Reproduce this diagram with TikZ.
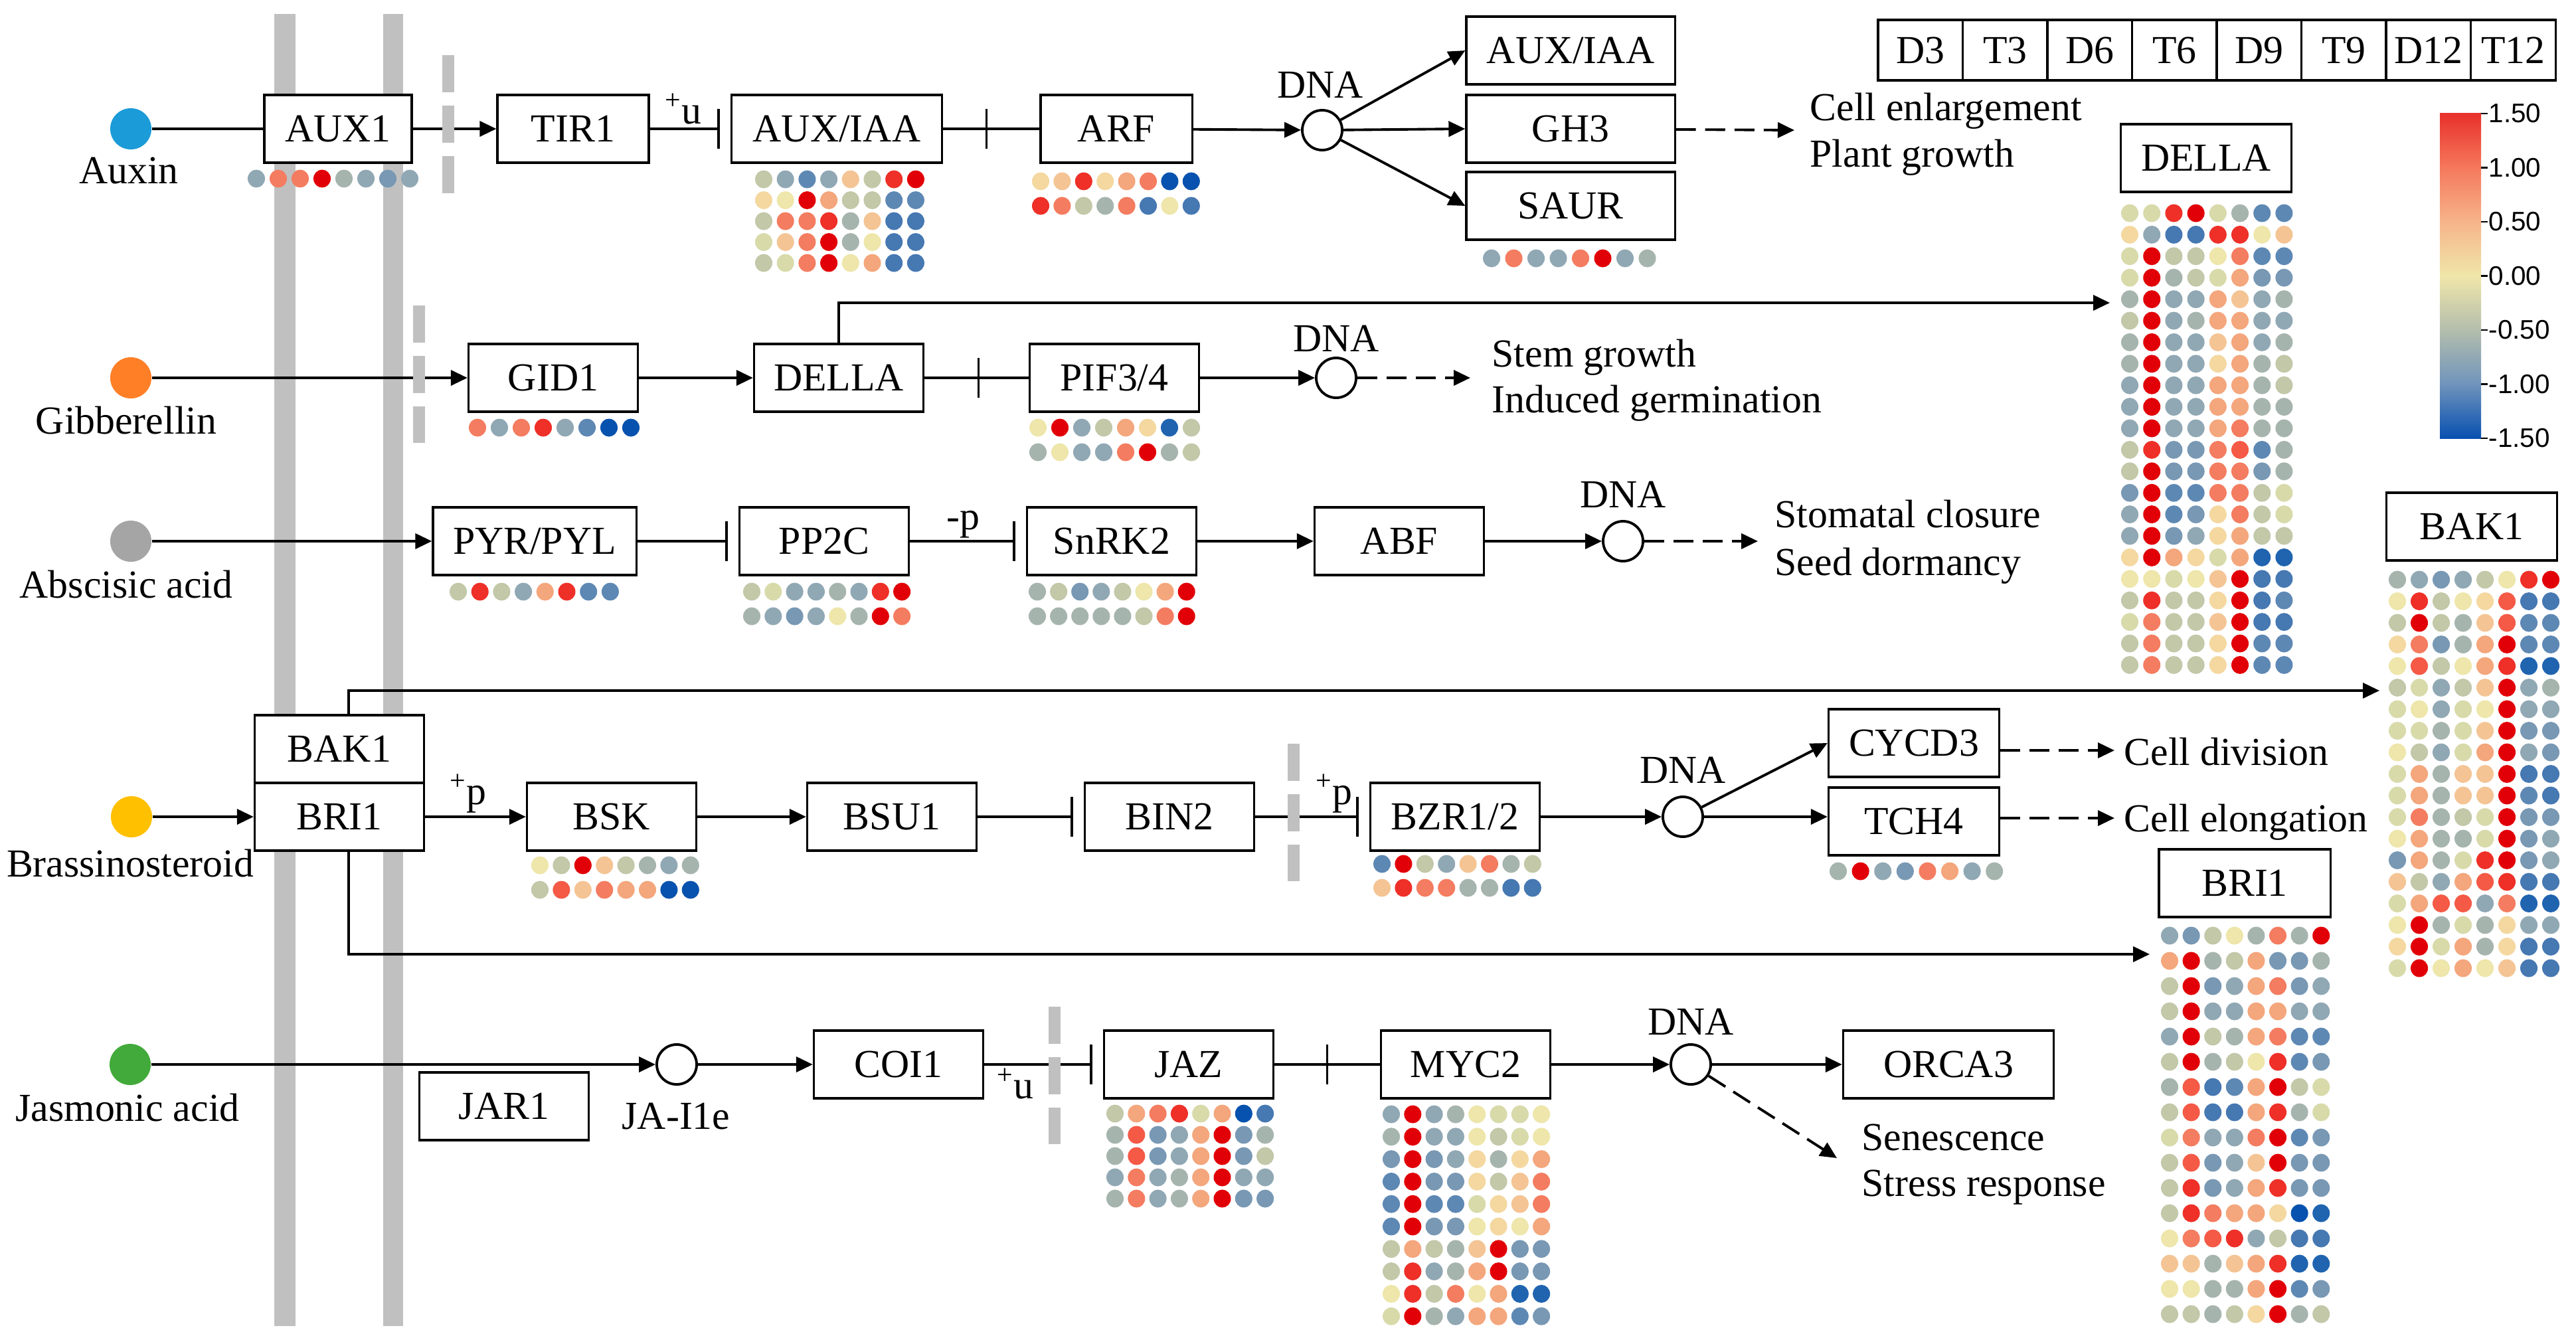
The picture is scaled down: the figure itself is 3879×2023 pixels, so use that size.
\documentclass[tikz,border=0pt]{standalone}
\usepackage{fontspec}
\setmainfont{Liberation Serif}
\newfontfamily\cbfamily{Liberation Sans}
\usetikzlibrary{arrows.meta,calc}
\newcommand\lblfont{\fontsize{17}{20}\selectfont}
\newcommand\cbf{\cbfamily\fontsize{11.5}{13}\selectfont}
% heat-map palette
\definecolor{hmR}{HTML}{E20008}
\definecolor{hmr}{HTML}{EE3028}
\definecolor{hmn}{HTML}{F45A46}
\definecolor{hmo}{HTML}{F47C60}
\definecolor{hmp}{HTML}{F4A67C}
\definecolor{hmq}{HTML}{F4C494}
\definecolor{hmy}{HTML}{F4D8A0}
\definecolor{hmw}{HTML}{EEE6AA}
\definecolor{hmg}{HTML}{D8DAAA}
\definecolor{hmh}{HTML}{C2C8A8}
\definecolor{hms}{HTML}{A6B4AE}
\definecolor{hmb}{HTML}{90A8B4}
\definecolor{hmc}{HTML}{7898B4}
\definecolor{hmB}{HTML}{5E88B4}
\definecolor{hmC}{HTML}{4678B2}
\definecolor{hmD}{HTML}{2064B0}
\definecolor{hmE}{HTML}{0652AE}
% colour bar
\definecolor{cb0}{HTML}{0850B0}
\definecolor{cb1}{HTML}{7094BC}
\definecolor{cb2}{HTML}{B4BEAC}
\definecolor{cb3}{HTML}{F0E6AA}
\definecolor{cb4}{HTML}{F6B48A}
\definecolor{cb5}{HTML}{F5785C}
\definecolor{cb6}{HTML}{E8302A}
% hormones
\definecolor{cAux}{HTML}{1B9BD7}
\definecolor{cGA}{HTML}{FF7F27}
\definecolor{cABA}{HTML}{A5A5A5}
\definecolor{cBR}{HTML}{FFC000}
\definecolor{cJA}{HTML}{42AA3A}
\definecolor{memgray}{HTML}{C0C0C0}
% dot rows
\newcount\hmi
\def\hmrow#1#2#3#4{\def\hmx{#1}\def\hmy{#2}\def\hms{#3}\hmi=0 \expandafter\hmparse#4\relax}
\def\hmparse#1{\ifx\relax#1\else\hmdot{#1}\advance\hmi by 1 \expandafter\hmparse\fi}
\def\hmdot#1{\fill[hm#1] ({\hmx+\the\hmi*\hms},{\hmy}) ellipse [x radius=0.13cm,y radius=0.135cm];}
\newcommand\hmblock[5]{\foreach \hmrowstr [count=\hmj from 0] in {#5} {\hmrow{#1}{#2+\hmj*#4}{#3}{\hmrowstr}}}
\begin{document}
\begin{tikzpicture}[x=0.01cm,y=-0.01cm,
  box/.style={draw,line width=0.9pt,fill=white,minimum width=2.55cm,minimum height=1.02cm,inner sep=0pt,font=\lblfont},
  conn/.style={line width=1.1pt},
  arr/.style={conn,-{Triangle[length=0.25cm,width=0.23cm]}},
  darr/.style={arr,dash pattern=on 0.3cm off 0.14cm},
  inh/.style={conn,-{Bar[width=0.6cm]},shorten >=0.16cm},
  midbar/.style={fill=black,minimum width=1pt,minimum height=0.6cm,inner sep=0pt},
  dna/.style={circle,draw,line width=1.1pt,minimum size=0.6cm,inner sep=0pt,fill=white},
  horm/.style={circle,minimum size=0.62cm,inner sep=0pt},
  lbl/.style={font=\lblfont,inner sep=0pt},
  nmem/.style={draw=memgray,line width=0.18cm,dash pattern=on 0.56cm off 0.2cm},
  hdr/.style={draw,line width=0.9pt,minimum width=1.275cm,minimum height=0.91cm,inner sep=0pt,font=\lblfont}
]
\useasboundingbox (0,0) rectangle (3879,2023);
\fill[white] (0,0) rectangle (3879,2023);
% plasma membrane
\fill[memgray] (413,21) rectangle (445,1997);
\fill[memgray] (577,21) rectangle (607,1997);

% ---------- Auxin ----------
\node[horm,fill=cAux] (auxin) at (197,194) {};
\node[lbl] (auxinL) at (194,257) {Auxin};
\node[box,minimum width=2.22cm] (aux1) at (509,194) {AUX1};
\node[box,minimum width=2.28cm] (tir1) at (863,194) {TIR1};
\node[box,minimum width=3.17cm] (auxiaa) at (1260,194) {AUX/IAA};
\node[box,minimum width=2.28cm] (arf) at (1681,194) {ARF};
\node[dna] (dna1) at (1991,196) {};
\node[lbl] (dna1L) at (1988,128) {DNA};
\node[box,minimum width=3.14cm] (auxiaa2) at (2365,76) {AUX/IAA};
\node[box,minimum width=3.14cm] (gh3) at (2365,194) {GH3};
\node[box,minimum width=3.14cm] (saur) at (2365,310) {SAUR};
\node[lbl,anchor=base west] (ceL) at (2725,181) {Cell enlargement};
\node[lbl,anchor=base west] (pgL) at (2725,251) {Plant growth};
\coordinate (ceA) at (2702,196);
\node[lbl] (u1) at (1029,164) {\textsuperscript{+}u};

% ---------- Gibberellin ----------
\node[horm,fill=cGA] (ga) at (197,569) {};
\node[lbl] (gaL) at (190,633) {Gibberellin};
\node[box] (gid1) at (833,569) {GID1};
\node[box] (della) at (1263,569) {DELLA};
\node[box] (pif) at (1678,569) {PIF3/4};
\node[dna] (dna2) at (2012,569) {};
\node[lbl] (dna2L) at (2012,510) {DNA};
\node[lbl,anchor=base west] (sgL) at (2246,552) {Stem growth};
\node[lbl,anchor=base west] (igL) at (2246,621) {Induced germination};
\coordinate (sgA) at (2214,569);
\coordinate (dellaHM) at (3177,456);

% ---------- Abscisic acid ----------
\node[horm,fill=cABA] (aba) at (197,815) {};
\node[lbl] (abaL) at (190,880) {Abscisic acid};
\node[box,minimum width=3.06cm] (pyr) at (805,815) {PYR/PYL};
\node[box] (pp2c) at (1241,815) {PP2C};
\node[box] (snrk2) at (1674,815) {SnRK2};
\node[box] (abf) at (2107,815) {ABF};
\node[dna] (dna3) at (2444,815) {};
\node[lbl] (dna3L) at (2444,745) {DNA};
\node[lbl,anchor=base west] (scL) at (2672,794) {Stomatal closure};
\node[lbl,anchor=base west] (sdL) at (2672,866) {Seed dormancy};
\coordinate (scA) at (2647,815);
\node[lbl] (p1) at (1450,790) {-p};

% ---------- Brassinosteroid ----------
\node[horm,fill=cBR] (br) at (198,1230) {};
\node[lbl] (brL) at (196,1300) {Brassinosteroid};
\node[box] (bri1) at (511,1230) {BRI1};
\node[box] (bak1) at (511,1128) {BAK1};
\node[box] (bsk) at (921,1230) {BSK};
\node[box] (bsu1) at (1343,1230) {BSU1};
\node[box] (bin2) at (1761,1230) {BIN2};
\node[box] (bzr) at (2191,1230) {BZR1/2};
\node[dna] (dna4) at (2534,1230) {};
\node[lbl] (dna4L) at (2534,1160) {DNA};
\node[box,minimum width=2.57cm] (cycd3) at (2882,1119) {CYCD3};
\node[box,minimum width=2.57cm] (tch4) at (2882,1237) {TCH4};
\node[lbl,anchor=base west] (cdL) at (3198,1152) {Cell division};
\node[lbl,anchor=base west] (elL) at (3198,1252) {Cell elongation};
\coordinate (cdA) at (3184,1130);
\coordinate (elA) at (3184,1232);
\coordinate (bak1HM) at (3583,1040);
\coordinate (bri1HM) at (3237,1437);
\node[lbl] (p2) at (705,1195) {\textsuperscript{+}p};
\node[lbl] (p3) at (2009,1195) {\textsuperscript{+}p};

% ---------- Jasmonic acid ----------
\node[horm,fill=cJA] (ja) at (196,1603) {};
\node[lbl] (jaL) at (192,1668) {Jasmonic acid};
\node[box] (jar1) at (759,1666) {JAR1};
\node[dna] (jaile) at (1019,1603) {};
\node[lbl] (jaileL) at (1018,1681) {JA-I1e};
\node[box] (coi1) at (1353,1603) {COI1};
\node[box] (jaz) at (1790,1603) {JAZ};
\node[box] (myc2) at (2207,1603) {MYC2};
\node[dna] (dna5) at (2546,1603) {};
\node[lbl] (dna5L) at (2546,1539) {DNA};
\node[box,minimum width=3.17cm] (orca3) at (2934,1603) {ORCA3};
\node[lbl,anchor=base west] (senL) at (2803,1732) {Senescence};
\node[lbl,anchor=base west] (strL) at (2803,1801) {Stress response};
\coordinate (senA) at (2766,1744);
\node[lbl] (u2) at (1529,1632) {\textsuperscript{+}u};

% ---------- heat-map headers ----------
\node[box,minimum width=2.57cm] (dellaH) at (3322,238) {DELLA};
\node[box,minimum width=2.57cm] (bak1H) at (3722,793) {BAK1};
\node[box,minimum width=2.58cm] (bri1H) at (3380,1330) {BRI1};
\foreach \t [count=\i from 0] in {D3,T3,D6,T6,D9,T9,D12,T12}
  \node[hdr] (h\t) at ({2828+63.75+\i*127.5},75.5) {\t};

% ---------- connectors ----------
\draw[conn] (auxin) -- (aux1);
\draw[arr] (aux1) -- (tir1);
\draw[inh] (tir1) -- (auxiaa);
\draw[conn] (auxiaa) -- node[pos=0.45,midbar]{} (arf);
\draw[arr] (arf) -- (dna1);
\draw[arr] (dna1) -- (auxiaa2.west);
\draw[arr] (dna1) -- (gh3.west);
\draw[arr] (dna1) -- (saur.west);
\draw[darr] (gh3) -- (ceA);

\draw[arr] (ga) -- (gid1);
\draw[arr] (gid1) -- (della);
\draw[conn] (della) -- node[pos=0.52,midbar]{} (pif);
\draw[arr] (pif) -- (dna2);
\draw[darr] (dna2) -- (sgA);
\draw[arr] (della.north) |- (dellaHM);

\draw[arr] (aba) -- (pyr);
\draw[inh] (pyr) -- (pp2c);
\draw[inh] (pp2c) -- (snrk2);
\draw[arr] (snrk2) -- (abf);
\draw[arr] (abf) -- (dna3);
\draw[darr] (dna3) -- (scA);

\draw[arr] (br) -- (bri1);
\draw[arr] (bri1) -- (bsk);
\draw[arr] (bsk) -- (bsu1);
\draw[inh] (bsu1) -- (bin2);
\draw[inh] (bin2) -- (bzr);
\draw[arr] (bzr) -- (dna4);
\draw[arr] (dna4) -- (cycd3.west);
\draw[arr] (dna4) -- (dna4 -| tch4.west);
\draw[darr] (cycd3.east |- cdA) -- (cdA);
\draw[darr] (tch4.east |- elA) -- (elA);
\draw[arr] ([xshift=0.14cm]bak1.north) |- (bak1HM);
\draw[arr] ([xshift=0.14cm]bri1.south) |- (bri1HM);

\draw[arr] (ja) -- (jaile);
\draw[arr] (jaile) -- (coi1);
\draw[inh] (coi1) -- (jaz);
\draw[conn] (jaz) -- node[pos=0.5,midbar]{} (myc2);
\draw[arr] (myc2) -- (dna5);
\draw[arr] (dna5) -- (orca3);
\draw[darr] (dna5) -- (senA);

% nuclear membrane
\draw[nmem] (675,83) -- (675,291);
\draw[nmem] (631,460) -- (631,667);
\draw[nmem] (1948,1120) -- (1948,1327);
\draw[nmem] (1588,1516) -- (1588,1723);

% ---------- colour bar ----------
\foreach \k/\ca/\cb in {0/cb0/cb1,1/cb1/cb2,2/cb2/cb3,3/cb3/cb4,4/cb4/cb5,5/cb5/cb6}
  \shade[bottom color=\ca,top color=\cb] (3674,{660-\k*81.5}) rectangle (3736,{660-(\k+1)*81.5-0.8});
\foreach \v [count=\i from 0] in {1.50,1.00,0.50,0.00,-0.50,-1.00,-1.50} {
  \draw[line width=0.6pt] (3736,{171+\i*81.5}) -- (3746,{171+\i*81.5});
  \node[anchor=west,inner sep=0pt,font=\cbf] at (3747,{171+\i*81.5}) {\v};
}

% ---------- heat maps ----------
\hmblock{386}{269}{33}{0}{booRsbcb}
\hmblock{1150}{270}{32.7}{31.5}{hbBbqhrR,ywRphhBB,hoorsqCC,gqoRswCC,hgoRwpCC}
\hmblock{1567}{273}{32.4}{37}{yqrypoEE,rohsoCwC}
\hmblock{2246}{389}{33.5}{0}{bobboRbs}
\hmblock{719}{644}{33}{0}{oborbBEE}
\hmblock{1563}{644}{33}{37}{wRbhpyDh,swbboRsh}
\hmblock{690}{891}{32.7}{0}{hrhbprBB}
\hmblock{1132}{891}{32.3}{37}{hgbbsbrR,sbcbwsRo}
\hmblock{1562}{891}{32.1}{37}{shcbhwpR,ssssshoR}
\hmblock{813}{1303}{32.4}{37}{whRqhsbs,hnqoppEE}
\hmblock{2081}{1301}{32.4}{36}{BRhbqosh,qroossCC}
\hmblock{2768}{1312}{33.6}{0}{sRbcopbs}
\hmblock{1679}{1677}{32.3}{32}{hporgpEC,sncbpRcs,sncbpRch,bobspRbb,sobspRcc}
\hmblock{2095}{1678}{32.3}{33.8}{bRbswggw,sRbbwhgw,cRcbysyp,BRccyhqo,BRBBgyqo,BRccwywp,hphsqRcc,hrbspRcc,wrhowpDD,gRsbppBc}
\hmblock{3207}{321}{33.2}{32.4}{ggrRgsBB,ybCCrrwq,gRhhwoBB,gRshgpcc,sRbbpqbs,hRbsppbb,sRbbqpbs,sRbbypsh,bRbbppsh,bRbbppss,bRbbposs,hrcconBs,hRccoocs,cRBBoohg,bRBcyohg,bRcbyphh,yRpygpDD,wwgwqRCC,hrhhyRCB,gohhqRCC,hohhyRBB,hohhyRBB}
\hmblock{3610}{873}{33}{32.5}{sbcbhwrR,wrhwynCC,hRhsqnBB,yocspRBB,wnhwprDD,hgbhqRbs,gwbgwRbb,ggsgqRcc,whbgpRbc,gpsqqRCC,gpsqqRBC,goshgRcc,wpssgRcb,cpsgrRcb,qhbpnrCC,gpnnboDD,wRsgsybb,yRgpsyCC,gRwpwqCC}
\hmblock{3267}{1409}{32.6}{38}{bchwsosR,pRshpccs,hRcbpocb,hRbbppbb,bRhspoBB,hRshwrBc,snCBpRhg,hnCCprsg,gobboRBc,hncbqRcc,hrcbprcc,hroppyED,wonrbhCC,qqsqprDD,wwsspRBc,hhshyRsh}
\end{tikzpicture}
\end{document}
